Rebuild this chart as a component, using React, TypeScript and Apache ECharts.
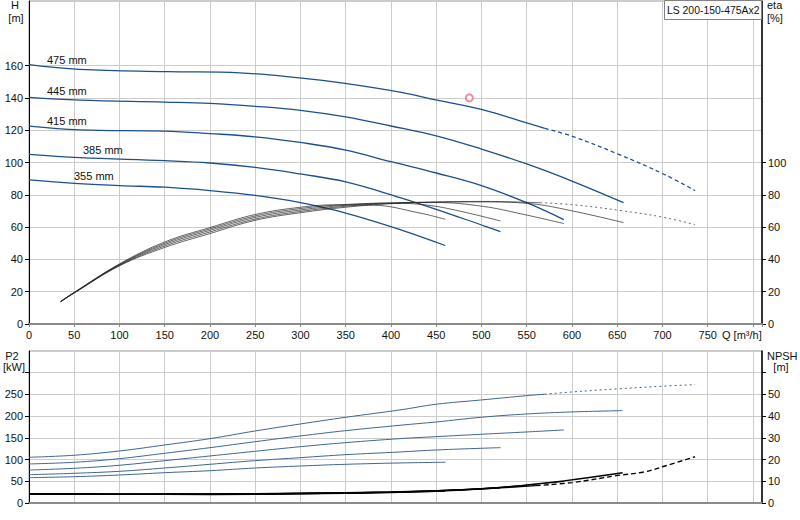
import { useEffect, useRef } from "react";
import * as echarts from "echarts";

// flow points (m3/h) and head (m) per impeller
const qH475 = [0, 56, 152, 233, 299, 351, 410, 451, 500, 550, 570];
const h475 = [160.6, 157.7, 156.3, 155.5, 152.4, 148.9, 143.6, 138.6, 132.9, 124.5, 121.2];
const qH475Ext = [570, 602, 651, 701, 736];
const h475Ext = [121.2, 115.9, 105.2, 92.9, 82.6];
const qH445 = [0, 56, 150, 200, 250, 300, 350, 400, 450, 500, 550, 600, 657];
const h445 = [140.3, 138.6, 137.4, 136.6, 134.8, 132.3, 128.2, 122.6, 116.5, 108.3, 99.1, 88.5, 75.1];
const qH415 = [0, 56, 150, 200, 250, 300, 350, 400, 450, 500, 550, 591];
const h415 = [122.5, 120.2, 119.4, 117.9, 115.9, 112.4, 107.7, 100.5, 93.5, 85.7, 75.1, 64.6];
const qH385 = [0, 56, 150, 200, 250, 300, 350, 410, 450, 500, 521];
const h385 = [105, 103, 101.1, 99.7, 97, 92.9, 88, 78.3, 71, 61.3, 57.2];
const qH355 = [0, 50, 100, 150, 200, 250, 300, 350, 410, 460];
const h355 = [89.2, 87.1, 85.7, 84.7, 82.6, 79.6, 75.1, 68.7, 58.5, 48.6];

// efficiency (%)
const qE475 = [35, 50, 100, 150, 200, 250, 300, 350, 400, 450, 500, 565];
const e475 = [13.9, 19.2, 36, 47.4, 56, 64.2, 68.9, 72.3, 74.5, 75.5, 75.9, 75.1];
const qE475Ext = [565, 602, 653, 700, 736];
const e475Ext = [75.1, 73.8, 70.3, 66.2, 61.5];
const qE445 = [35, 50, 100, 150, 200, 250, 300, 350, 400, 450, 500, 554, 598, 657];
const e445 = [13.9, 19.3, 36.3, 48.3, 57, 65, 69.7, 72.9, 74.7, 75.5, 75.6, 74.5, 70.3, 62.8];
const qE415 = [35, 50, 100, 150, 200, 250, 300, 350, 400, 450, 502, 543, 591];
const e415 = [13.9, 19.4, 36.6, 49.2, 58, 66, 70.6, 73.5, 75, 75.2, 72.8, 68.3, 62.2];
const qE385 = [35, 50, 100, 150, 200, 250, 300, 350, 400, 440, 476, 521];
const e385 = [13.9, 19.5, 36.9, 50, 58.9, 66.9, 71.5, 74, 74.8, 73.6, 69.9, 63.8];
const qE355 = [35, 50, 100, 150, 200, 250, 300, 340, 380, 432, 460];
const e355 = [13.9, 19.6, 37.2, 50.8, 59.7, 67.8, 72.3, 73.8, 73.6, 68.7, 64.8];

// shaft power P2 (kW)
const qP475 = [0, 50, 100, 150, 200, 250, 300, 350, 410, 450, 500, 550, 570];
const p475 = [105.3, 110, 119.8, 133.6, 148.2, 165.9, 182, 197.4, 214.3, 227.4, 237.3, 247.2, 250.5];
const qP475Ext = [570, 600, 650, 700, 736];
const p475Ext = [250.5, 255.7, 262.7, 268.9, 272.6];
const qP445 = [0, 50, 100, 150, 200, 250, 300, 350, 410, 450, 500, 550, 600, 656];
const p445 = [89.9, 93.8, 102.1, 114.5, 127.4, 141.2, 154.4, 166.6, 179, 186.6, 197.4, 205, 209.7, 212.7];
const qP415 = [0, 50, 100, 150, 200, 250, 300, 350, 410, 450, 500, 550, 591];
const p415 = [76, 79.9, 86.9, 97.5, 108.3, 119.1, 129.7, 139, 148.2, 152.8, 158.3, 163.6, 168.2];
const qP385 = [0, 50, 100, 150, 200, 250, 300, 350, 410, 450, 500, 521];
const p385 = [65.2, 68.4, 73, 80.6, 89.1, 97.5, 104.4, 111.3, 117.5, 122.1, 126, 127.4];
const qP355 = [0, 50, 100, 150, 200, 250, 300, 350, 410, 460];
const p355 = [58.3, 60.6, 64.5, 69.8, 74.4, 80.6, 85.2, 89.1, 92.2, 93.8];

// NPSH (m)
const qN475 = [0, 100, 200, 300, 400, 460, 521, 560];
const n475 = [4.2, 4.1, 4.2, 4.5, 5.1, 5.8, 7.0, 8.0];
const qN475Ext = [560, 600, 651, 680, 701, 736];
const n475Ext = [8.0, 9.4, 12.7, 14.3, 16.8, 21.3];
const qN445 = [0, 100, 200, 300, 400, 460, 521, 591, 656];
const n445 = [4.2, 4.1, 4.1, 4.4, 5.0, 5.8, 7.2, 10.2, 13.9];
const qN415 = [0, 100, 200, 300, 400, 460, 521, 591];
const n415 = [4.2, 4.1, 4.1, 4.4, 5.0, 5.8, 7.2, 9.9];
const qN385 = [0, 100, 200, 300, 400, 460, 521];
const n385 = [4.1, 4.0, 4.0, 4.3, 4.9, 5.6, 7.0];
const qN355 = [0, 100, 200, 300, 400, 460];
const n355 = [4.1, 4.0, 3.9, 4.2, 4.8, 5.4];

// duty point
const dutyQ = 486.6;
const dutyH = 140;

const diameterLabels = ["475 mm", "445 mm", "415 mm", "385 mm", "355 mm"];
const hTicks = [0, 20, 40, 60, 80, 100, 120, 140, 160];
const etaTicks = [0, 20, 40, 60, 80, 100];
const p2Ticks = [0, 50, 100, 150, 200, 250, 300];
const npshTicks = [0, 10, 20, 30, 40, 50, 60];

const FONT = '"Liberation Sans", Arial, sans-serif';
const BLUE = "#1c4f8c";
const P2BLUE = "#3e6594";

const pairs = (q: number[], v: number[]) => q.map((x, i) => [x, v[i]]);

const curve = (
  q: number[],
  v: number[],
  xi: number,
  yi: number,
  color: string,
  width: number,
  type: "solid" | "dashed" | "dotted" | number[] = "solid"
) => ({
  type: "line",
  xAxisIndex: xi,
  yAxisIndex: yi,
  data: pairs(q, v),
  showSymbol: false,
  smooth: 0.4,
  silent: true,
  lineStyle: { color, width, type },
});

const text = (t: string, x: number, y: number, align = "left", size = 11) => ({
  type: "text",
  x,
  y,
  z: 100,
  style: {
    text: t,
    font: `${size}px ${FONT}`,
    fill: "#111",
    align,
    verticalAlign: "middle",
  },
});

const App = () => {
  const ref = useRef<HTMLDivElement>(null);

  useEffect(() => {
    if (!ref.current) return;
    const chart = echarts.init(ref.current, undefined, { renderer: "svg" });

    const axisLabel = { fontFamily: FONT, fontSize: 11, color: "#111" };
    const splitLine = { show: true, lineStyle: { color: "#cccccc", width: 1 } };

    const xAxisBase = {
      type: "value",
      min: 0,
      max: 810,
      interval: 50,
      axisLine: { show: true, lineStyle: { color: "#8a8a8a", width: 2 } },
      splitLine,
    };

    chart.setOption({
      animation: false,
      backgroundColor: "#ffffff",
      grid: [
        { left: 29, right: 38, top: 1, height: 323, show: true, borderColor: "#999", borderWidth: 1 },
        { left: 29, right: 38, top: 351, height: 152, show: true, borderColor: "#999", borderWidth: 1 },
      ],
      xAxis: [
        {
          ...xAxisBase,
          gridIndex: 0,
          axisTick: { show: true, length: 3, lineStyle: { color: "#8a8a8a" } },
          axisLabel: {
            ...axisLabel,
            margin: 5,
            formatter: (v: number) => (v <= 750 ? String(v) : ""),
          },
        },
        {
          ...xAxisBase,
          gridIndex: 1,
          axisTick: { show: false },
          axisLabel: { show: false },
        },
      ],
      yAxis: [
        {
          type: "value",
          gridIndex: 0,
          position: "left",
          min: 0,
          max: 200,
          interval: 20,
          axisLine: { show: true, lineStyle: { color: "#000", width: 1 } },
          axisTick: { show: true, length: 4, customValues: hTicks, lineStyle: { color: "#000" } },
          axisLabel: { ...axisLabel, margin: 6, customValues: hTicks },
          splitLine,
        },
        {
          type: "value",
          gridIndex: 0,
          position: "right",
          min: 0,
          max: 200,
          interval: 20,
          axisLine: { show: true, lineStyle: { color: "#000", width: 1.5 } },
          axisTick: { show: true, length: 4, customValues: etaTicks, lineStyle: { color: "#000" } },
          axisLabel: { ...axisLabel, margin: 6, customValues: etaTicks },
          splitLine: { show: false },
        },
        {
          type: "value",
          gridIndex: 1,
          position: "left",
          min: 0,
          max: 350,
          interval: 50,
          axisLine: { show: true, lineStyle: { color: "#000", width: 1 } },
          axisTick: { show: true, length: 4, customValues: p2Ticks, lineStyle: { color: "#000" } },
          axisLabel: { ...axisLabel, margin: 6, customValues: p2Ticks.slice(0, 6) },
          splitLine,
        },
        {
          type: "value",
          gridIndex: 1,
          position: "right",
          min: 0,
          max: 70,
          interval: 10,
          axisLine: { show: true, lineStyle: { color: "#000", width: 1.5 } },
          axisTick: { show: true, length: 4, customValues: npshTicks, lineStyle: { color: "#000" } },
          axisLabel: { ...axisLabel, margin: 6, customValues: npshTicks.slice(0, 6) },
          splitLine: { show: false },
        },
      ],
      series: [
        // head
        curve(qH475, h475, 0, 0, BLUE, 1.3),
        curve(qH475Ext, h475Ext, 0, 0, BLUE, 1.3, [4, 3]),
        curve(qH445, h445, 0, 0, BLUE, 1.3),
        curve(qH415, h415, 0, 0, BLUE, 1.3),
        curve(qH385, h385, 0, 0, BLUE, 1.3),
        curve(qH355, h355, 0, 0, BLUE, 1.3),
        // efficiency
        curve(qE475, e475, 0, 1, "#222", 0.7),
        curve(qE475Ext, e475Ext, 0, 1, "#444", 0.8, [2, 3]),
        curve(qE445, e445, 0, 1, "#222", 0.7),
        curve(qE415, e415, 0, 1, "#222", 0.7),
        curve(qE385, e385, 0, 1, "#222", 0.7),
        curve(qE355, e355, 0, 1, "#222", 0.7),
        // P2
        curve(qP475, p475, 1, 2, P2BLUE, 1),
        curve(qP475Ext, p475Ext, 1, 2, P2BLUE, 1, [2, 3]),
        curve(qP445, p445, 1, 2, P2BLUE, 1),
        curve(qP415, p415, 1, 2, P2BLUE, 1),
        curve(qP385, p385, 1, 2, P2BLUE, 1),
        curve(qP355, p355, 1, 2, P2BLUE, 1),
        // NPSH
        curve(qN475, n475, 1, 3, "#000", 1.4),
        curve(qN475Ext, n475Ext, 1, 3, "#000", 1.4, [5, 3]),
        curve(qN445, n445, 1, 3, "#000", 1.4),
        curve(qN415, n415, 1, 3, "#000", 1.2),
        curve(qN385, n385, 1, 3, "#000", 1.2),
        curve(qN355, n355, 1, 3, "#000", 1.2),
        {
          type: "scatter",
          xAxisIndex: 0,
          yAxisIndex: 0,
          data: [[dutyQ, dutyH]],
          symbol: "emptyCircle",
          symbolSize: 7,
          silent: true,
          itemStyle: { color: "#e8707a", borderColor: "#e8707a", borderWidth: 1 },
        },
      ],
      graphic: [
        text(diameterLabels[0], 47, 60),
        text(diameterLabels[1], 47, 91),
        text(diameterLabels[2], 47, 121),
        text(diameterLabels[3], 83, 150),
        text(diameterLabels[4], 74, 176),
        text("H", 15, 5, "center"),
        text("[m]", 16, 18, "center"),
        text("eta", 767, 5),
        text("[%]", 767, 18),
        text("P2", 12, 356, "center"),
        text("[kW]", 14, 367, "center"),
        text("NPSH", 767, 356),
        text("[m]", 781, 367, "center"),
        text("Q [m³/h]", 722, 335),
        {
          type: "rect",
          z: 99,
          shape: { x: 664.5, y: 0.5, width: 97, height: 19 },
          style: { fill: "#fff", stroke: "#808080", lineWidth: 1 },
        },
        text("LS 200-150-475Ax2", 667, 10, "left", 10.4),
      ],
    });

    return () => chart.dispose();
  }, []);

  return (
    <div
      ref={ref}
      style={{ position: "fixed", left: 0, top: 0, width: 800, height: 520, background: "#fff" }}
    />
  );
};

export default App;
